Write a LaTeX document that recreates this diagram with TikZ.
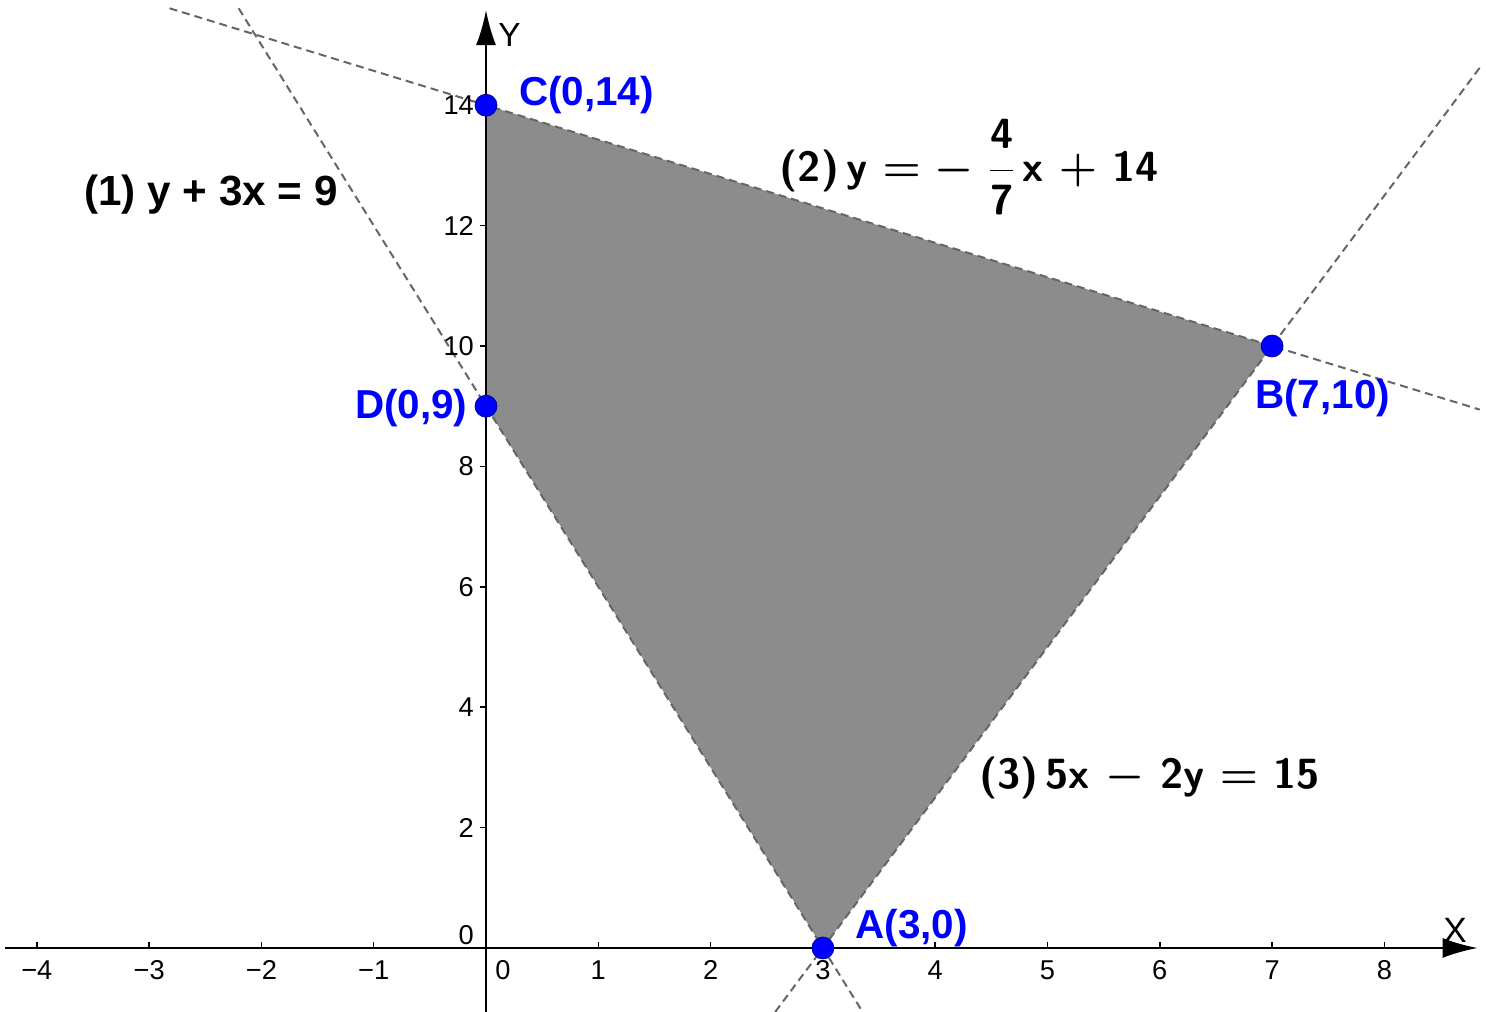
\documentclass[tikz,border=0pt]{standalone}
\usepackage{fontspec}
\setmainfont{Liberation Sans}
\usetikzlibrary{arrows.meta}

\begin{document}
\begin{tikzpicture}[
  x=2.246cm, y=1.204cm,
  >={Latex[length=7mm, width=4mm]},
  every node/.style={font=\fontsize{15.5}{17}\selectfont},
  constraint/.style={draw=black!60, line width=0.4mm,
                     dash pattern=on 1.6mm off 1mm},
  axis/.style={->, line width=0.4mm},
  vertex/.style={circle, fill=blue, draw=blue!60!black, inner sep=0pt,
                 minimum size=4.4mm},
  vlabel/.style={text=blue, font=\fontsize{23}{25}\selectfont\bfseries},
  eqn/.style={font=\fontsize{24}{26}\selectfont\bfseries},
  texeqn/.style={font=\fontsize{24}{26}\selectfont\sffamily\bfseries\boldmath},
  ticklabel/.style={inner sep=1pt},
]
  \useasboundingbox (-4.328, -1.063) rectangle (8.905, 15.748);

  % corner points of the feasible region
  \coordinate (a) at (3, 0);
  \coordinate (b) at (7, 10);
  \coordinate (c) at (0, 14);
  \coordinate (d) at (0, 9);

  \fill[black!45] (d) -- (c) -- (b) -- (a) -- cycle;

  % ends of the three lines
  \coordinate (l1a) at (-2.203, 15.61);
  \coordinate (l1b) at (3.354, -1.063);
  \coordinate (l2a) at (-2.818, 15.61);
  \coordinate (l2b) at (8.85, 8.943);
  \coordinate (l3a) at (2.575, -1.063);
  \coordinate (l3b) at (8.85, 14.625);

  \draw[constraint] (l1a) -- (l1b);
  \draw[constraint] (l2a) -- (l2b);
  \draw[constraint] (l3a) -- (l3b);

  % axes
  \coordinate (xs) at (-4.28, 0);
  \coordinate (xe) at (8.83, 0);
  \coordinate (ys) at (0, -1.063);
  \coordinate (ye) at (0, 15.58);
  \draw[axis] (xs) -- (xe);
  \draw[axis] (ys) -- (ye);
  \node (xlab) at (8.63, 0.30) {\fontsize{20}{22}\selectfont X};
  \node (ylab) at (0.21, 15.17) {\fontsize{19}{21}\selectfont Y};

  \foreach \i in {-4,...,-1,1,2,...,8}
    \draw[line width=0.3mm] (\i, 0) -- (\i, 0.1);
  \foreach \i in {1,...,4}
    \node[ticklabel] (xtm\i) at (-\i, -0.37) {−\i};
  \foreach \i in {1,...,8}
    \node[ticklabel] (xt\i) at (\i, -0.37) {\i};
  \node[ticklabel] (xt0) at (0.15, -0.37) {0};

  \foreach \j in {2,4,...,14} {
    \draw[line width=0.3mm] (0, \j) -- (-0.05, \j);
    \node[ticklabel, anchor=east] (yt\j) at (-0.09, \j) {\j};
  }
  \node[ticklabel, anchor=east] (yt0) at (-0.09, 0.22) {0};

  \node[vertex] (A) at (a) {};
  \node[vertex] (B) at (b) {};
  \node[vertex] (C) at (c) {};
  \node[vertex] (D) at (d) {};

  \node[vlabel] (labA) at (3.79, 0.33) {A(3,0)};
  \node[vlabel] (labB) at (7.45, 9.14) {B(7,10)};
  \node[vlabel, anchor=west] (labC) at (0.24, 14.17) {C(0,14)};
  \node[vlabel, anchor=east] (labD) at (-0.11, 8.97) {D(0,9)};

  \node[eqn] (eq1) at (-2.45, 12.51) {(1) y + 3x = 9};
  \node[texeqn] (eq2) at (4.305, 12.97)
    {(2)\,y $= -\;\displaystyle\frac{\mbox{4}}{\mbox{7}}$\,x $+$ 14};
  \node[texeqn] (eq3) at (5.91, 2.82) {(3)\,5x $-$ 2y $=$ 15};
\end{tikzpicture}
\end{document}
